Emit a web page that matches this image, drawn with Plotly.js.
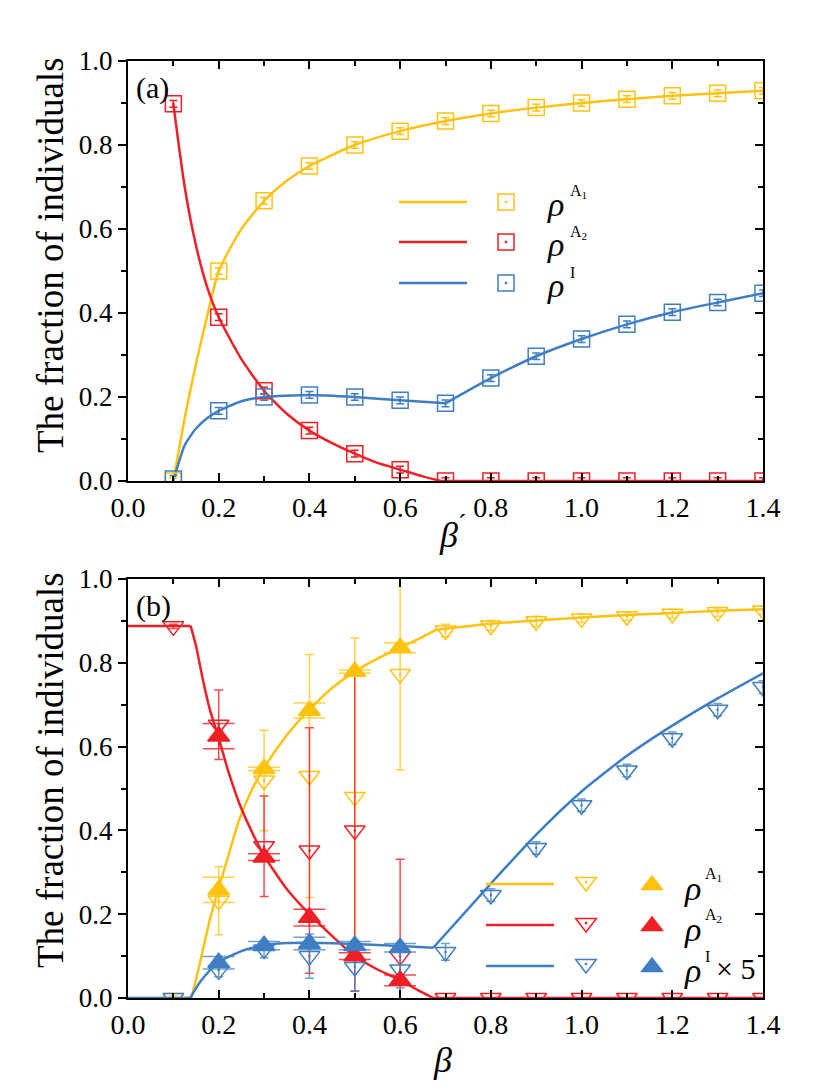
<!DOCTYPE html>
<html><head><meta charset="utf-8">
<script src="https://cdn.plot.ly/plotly-3.0.1.min.js"></script>
<style>html,body{margin:0;padding:0;background:#fff}#chart{width:830px;height:1087px}</style>
</head><body><div id="chart"></div>
<script>
// ---------- Panel (a): x = beta' ----------
const aBeta = [0.1,0.2,0.3,0.4,0.5,0.6,0.7,0.8,0.9,1.0,1.1,1.2,1.3,1.4];
const aRhoA1 = [0.0,0.50,0.667,0.75,0.80,0.833,0.857,0.875,0.889,0.90,0.909,0.917,0.923,0.929];
const aRhoA2 = [0.898,0.39,0.215,0.12,0.065,0.027,0.0,0.0,0.0,0.0,0.0,0.0,0.0,0.0];
const aRhoI  = [0.005,0.167,0.20,0.205,0.20,0.192,0.185,0.245,0.297,0.338,0.373,0.402,0.425,0.447];
const aErr   = [0.008,0.008,0.008,0.008,0.008,0.008,0.008,0.008,0.008,0.008,0.008,0.008,0.008,0.008];
// theory curves (a)
const aCurveA1X = [0.1,0.125,0.15,0.175,0.2,0.25,0.3,0.35,0.4,0.5,0.6,0.7,0.8,0.9,1.0,1.1,1.2,1.3,1.4];
const aCurveA1  = [0.0,0.15,0.28,0.395,0.5,0.6,0.667,0.715,0.75,0.80,0.833,0.857,0.875,0.889,0.90,0.909,0.917,0.923,0.929];
const aCurveA2X = [0.1,0.125,0.15,0.175,0.2,0.25,0.3,0.35,0.4,0.45,0.5,0.55,0.6,0.65,0.69,1.4];
const aCurveA2  = [0.898,0.70,0.56,0.46,0.39,0.29,0.215,0.16,0.12,0.09,0.065,0.043,0.027,0.011,0.0,0.0];
const aCurveIX  = [0.1,0.125,0.15,0.175,0.2,0.25,0.3,0.4,0.5,0.6,0.7,0.8,0.9,1.0,1.1,1.2,1.3,1.4];
const aCurveI   = [0.0,0.085,0.125,0.15,0.167,0.19,0.20,0.205,0.20,0.192,0.185,0.245,0.297,0.338,0.373,0.402,0.425,0.447];

// ---------- Panel (b): x = beta ----------
const bBeta = [0.1,0.2,0.3,0.4,0.5,0.6,0.7,0.8,0.9,1.0,1.1,1.2,1.3,1.4];
const bOpenA1 = [0.0,0.232,0.519,0.53,0.48,0.773,0.877,0.889,0.899,0.906,0.911,0.917,0.921,0.925];
const bOpenA1Err = [0.005,0.081,0.12,0.29,0.379,0.228,0.015,0.012,0.012,0.01,0.01,0.01,0.01,0.01];
const bOpenA2 = [0.887,0.652,0.362,0.352,0.40,0.10,0,0,0,0,0,0,0,0];
const bOpenA2Err = [0.005,0.083,0.12,0.293,0.383,0.231,0,0,0,0,0,0,0,0];
const bOpenI = [0.0,0.066,0.116,0.10,0.074,0.068,0.11,0.246,0.358,0.46,0.543,0.62,0.688,0.742];
const bOpenIErr = [0.0,0.015,0.02,0.053,0.058,0.044,0.02,0.015,0.015,0.015,0.015,0.015,0.015,0.015];
const bBetaFilled = [0.2,0.3,0.4,0.5,0.6];
const bFilledA1 = [0.258,0.547,0.686,0.779,0.836];
const bFilledA1Err = [0.03,0.004,0.018,0.004,0.012];
const bFilledA2 = [0.625,0.336,0.192,0.10,0.042];
const bFilledA2Err = [0.03,0.008,0.02,0.008,0.013];
const bFilledI = [0.084,0.125,0.13,0.125,0.12];
const bFilledIErr = [0.015,0.01,0.015,0.01,0.01];
// theory curves (b)
const bCurveA1X = [0,0.14,0.16,0.18,0.2,0.22,0.245,0.27,0.3,0.35,0.4,0.45,0.5,0.55,0.6,0.65,0.68,0.8,0.9,1.0,1.1,1.2,1.3,1.4];
const bCurveA1  = [0,0,0.09,0.185,0.262,0.335,0.425,0.49,0.549,0.627,0.688,0.74,0.779,0.81,0.836,0.862,0.879,0.893,0.901,0.908,0.914,0.919,0.924,0.928];
const bCurveA2X = [0,0.138,0.15,0.165,0.18,0.2,0.22,0.247,0.276,0.3,0.35,0.4,0.45,0.5,0.55,0.6,0.64,0.673,1.4];
const bCurveA2  = [0.888,0.888,0.84,0.76,0.69,0.62,0.545,0.46,0.39,0.34,0.26,0.2,0.148,0.1,0.068,0.043,0.018,0.0,0.0];
const bCurveIX  = [0,0.137,0.16,0.196,0.25,0.298,0.35,0.4,0.5,0.6,0.673,0.8,0.9,1.0,1.1,1.2,1.3,1.4];
const bCurveI   = [0,0,0.04,0.083,0.112,0.126,0.131,0.132,0.129,0.124,0.12,0.273,0.39,0.493,0.578,0.65,0.715,0.775];
// x positions where the theory curves have corners
const aKinksA2 = [0.69], aKinksI = [0.7];
const bKinksA1 = [0.14, 0.68], bKinksA2 = [0.138, 0.673], bKinksI = [0.137, 0.673];

// ---------- styling ----------
const YEL = '#FFC20E', RED = '#EE1F27', BLU = '#3F7EC3';
const YELe = 'rgba(255,194,14,0.75)', REDe = 'rgba(238,31,39,0.8)', BLUe = 'rgba(63,126,195,0.75)';
const FONT = 'Liberation Serif';

function curve(x, y, kinks, color, xa, ya) {
  const cuts = [0];
  kinks.forEach(k => { const i = x.indexOf(k); if (i > 0) cuts.push(i); });
  cuts.push(x.length - 1);
  const out = [];
  for (let s = 0; s < cuts.length - 1; s++) {
    const xs = x.slice(cuts[s], cuts[s + 1] + 1), ys = y.slice(cuts[s], cuts[s + 1] + 1);
    out.push({x: xs, y: ys, xaxis: xa, yaxis: ya, mode: 'lines', hoverinfo: 'skip',
      line: {color, width: 2.5, shape: xs.length > 2 ? 'spline' : 'linear', smoothing: 0.6}});
  }
  return out;
}
function marks(x, y, err, color, errColor, symbol, size, capw, xa, ya) {
  return {x, y, xaxis: xa, yaxis: ya, mode: 'markers', hoverinfo: 'skip',
          marker: {symbol, size, color, line: {color, width: 1.5}},
          error_y: {type: 'data', array: err, visible: true, color: errColor, thickness: 1.5, width: capw}};
}

const traces = [].concat(
  curve(aCurveA1X, aCurveA1, [], YEL, 'x', 'y'),
  curve(aCurveA2X, aCurveA2, aKinksA2, RED, 'x', 'y'),
  curve(aCurveIX, aCurveI, aKinksI, BLU, 'x', 'y'),
  [marks(aBeta, aRhoA1, aErr, YEL, YEL, 'square-open-dot', 16, 4, 'x', 'y'),
   marks(aBeta, aRhoA2, aErr, RED, RED, 'square-open-dot', 16, 4, 'x', 'y'),
   marks(aBeta, aRhoI, aErr, BLU, BLU, 'square-open-dot', 16, 4, 'x', 'y')],
  curve(bCurveA1X, bCurveA1, bKinksA1, YEL, 'x2', 'y2'),
  curve(bCurveA2X, bCurveA2, bKinksA2, RED, 'x2', 'y2'),
  curve(bCurveIX, bCurveI, bKinksI, BLU, 'x2', 'y2'),
  [marks(bBeta, bOpenA1, bOpenA1Err, YEL, YELe, 'triangle-down-open-dot', 18, 4.5, 'x2', 'y2'),
   marks(bBeta, bOpenA2, bOpenA2Err, RED, REDe, 'triangle-down-open-dot', 18, 4.5, 'x2', 'y2'),
   marks(bBeta, bOpenI, bOpenIErr, BLU, BLUe, 'triangle-down-open-dot', 18, 4.5, 'x2', 'y2'),
   marks(bBetaFilled, bFilledA1, bFilledA1Err, YEL, YELe, 'triangle-up', 19, 16, 'x2', 'y2'),
   marks(bBetaFilled, bFilledA2, bFilledA2Err, RED, REDe, 'triangle-up', 19, 16, 'x2', 'y2'),
   marks(bBetaFilled, bFilledI, bFilledIErr, BLU, BLUe, 'triangle-up', 19, 16, 'x2', 'y2'),
   // empty traces so the right-hand tick axes get drawn
   {x: [], y: [], xaxis: 'x', yaxis: 'y3', mode: 'markers', hoverinfo: 'skip'},
   {x: [], y: [], xaxis: 'x2', yaxis: 'y4', mode: 'markers', hoverinfo: 'skip'}]
);

// ---------- layout ----------
const L = 128, R = 67, T = 61, Bm = 89, FW = 830, FH = 1087;
const W = FW - L - R, H = FH - T - Bm, BOT = FH - Bm;
const px = v => (v - L) / W, py = v => (BOT - v) / H;

function axX(anchor) {
  return {anchor, domain: [0, 1], range: [0, 1.4], tick0: 0, dtick: 0.2, tickformat: '.1f',
    ticks: 'inside', ticklen: 8, tickwidth: 2, tickcolor: '#000',
    showline: true, linewidth: 2, linecolor: '#000', mirror: 'ticks',
    showgrid: false, zeroline: false, tickfont: {family: FONT, size: 28, color: '#000'},
    minor: {dtick: 0.1, tick0: 0, ticks: 'inside', ticklen: 5, tickwidth: 2, tickcolor: '#000', showgrid: false}};
}
function axY(anchor, domain) {
  return {anchor, domain, range: [0, 1], tick0: 0, dtick: 0.2, tickformat: '.1f',
    ticks: 'outside', ticklen: 8, tickwidth: 2, tickcolor: '#000',
    showline: true, linewidth: 2, linecolor: '#000', mirror: true,
    showgrid: false, zeroline: false, tickfont: {family: FONT, size: 27, color: '#000'},
    minor: {dtick: 0.1, tick0: 0, ticks: 'outside', ticklen: 5, tickwidth: 2, tickcolor: '#000', showgrid: false}};
}
function axYRight(overlay, anchor) {
  return {overlaying: overlay, anchor, side: 'right', range: [0, 1], tick0: 0, dtick: 0.2,
    ticks: 'inside', ticklen: 8, tickwidth: 2, tickcolor: '#000', showticklabels: false,
    showline: false, showgrid: false, zeroline: false,
    minor: {dtick: 0.1, tick0: 0, ticks: 'inside', ticklen: 5, tickwidth: 2, tickcolor: '#000', showgrid: false}};
}
const topDom = [py(481), 1], botDom = [0, py(579)];

// legend pieces
const shapes = [], annotations = [];
function lgLine(x0, x1, y, color) {
  shapes.push({type: 'line', xref: 'paper', yref: 'paper', x0: px(x0), x1: px(x1), y0: py(y), y1: py(y),
    line: {color, width: 2.5}});
}
function lgPath(x, y, path, color, fill) {
  shapes.push({type: 'path', xref: 'paper', yref: 'paper', xsizemode: 'pixel', ysizemode: 'pixel',
    xanchor: px(x), yanchor: py(y), path, line: {color, width: 1.5}, fillcolor: fill || 'rgba(0,0,0,0)'});
}
function dot(x, y, color) {
  shapes.push({type: 'circle', xref: 'paper', yref: 'paper', xsizemode: 'pixel', ysizemode: 'pixel',
    xanchor: px(x), yanchor: py(y), x0: -1, x1: 1, y0: -1, y1: 1, line: {color, width: 1}, fillcolor: color});
}
function txt(x, y, text, size, opts) {
  annotations.push(Object.assign({xref: 'paper', yref: 'paper', x: px(x), y: py(y), text, showarrow: false,
    xanchor: 'left', yanchor: 'middle', font: {family: FONT, size, color: '#000'}}, opts || {}));
}
const SQ = 'M-8,-8 L8,-8 L8,8 L-8,8 Z';
const TD = 'M-10.4,4.5 L10.4,4.5 L0,-9 Z';
const TU = 'M-10.4,-4.5 L10.4,-4.5 L0,9 Z';

// legend (a)
const aRows = [[202, YEL, 'A', '1'], [242, RED, 'A', '2'], [283, BLU, 'I', '']];
aRows.forEach(([y, c, sup, sub]) => {
  lgLine(399, 467, y, c);
  lgPath(506, y, SQ, c); dot(506, y, c);
  txt(545, y + 2, '<i>ρ</i>', 34);
  txt(568, y - 10, sub ? sup + '<sub>' + sub + '</sub>' : sup, 16);
});
// legend (b)
const bRows = [[884, YEL, 'A', '1'], [925, RED, 'A', '2'], [966, BLU, 'I', '']];
bRows.forEach(([y, c, sup, sub]) => {
  lgLine(486, 554, y, c);
  lgPath(586, y - 2, TD, c); dot(586, y - 2, c);
  lgPath(652, y + 1, TU, c, c);
  txt(682, y + 4, '<i>ρ</i>', 34);
  txt(703, y - 10, sub ? sup + '<sub>' + sub + '</sub>' : sup, 16);
});
txt(714, 968, '× 5', 30);

// panel labels and axis titles
txt(134, 88, '(a)', 30);
txt(134, 606, '(b)', 30);
annotations.push({xref: 'paper', yref: 'paper', x: px(50), y: py(255), text: 'The fraction of individuals',
  textangle: -90, showarrow: false, xanchor: 'center', yanchor: 'middle', font: {family: FONT, size: 37, color: '#000'}});
annotations.push({xref: 'paper', yref: 'paper', x: px(50), y: py(770), text: 'The fraction of individuals',
  textangle: -90, showarrow: false, xanchor: 'center', yanchor: 'middle', font: {family: FONT, size: 37, color: '#000'}});
annotations.push({xref: 'paper', yref: 'paper', x: px(452), y: py(532), text: '<i>β</i><sup>´</sup>',
  showarrow: false, xanchor: 'center', yanchor: 'middle', font: {family: FONT, size: 36, color: '#000'}});
annotations.push({xref: 'paper', yref: 'paper', x: px(442), y: py(1060), text: '<i>β</i>',
  showarrow: false, xanchor: 'center', yanchor: 'middle', font: {family: FONT, size: 36, color: '#000'}});

const layout = {
  width: FW, height: FH, margin: {l: L, r: R, t: T, b: Bm},
  paper_bgcolor: '#fff', plot_bgcolor: '#fff', showlegend: false,
  font: {family: FONT, color: '#000'},
  xaxis: axX('y'), yaxis: axY('x', topDom),
  xaxis2: axX('y2'), yaxis2: axY('x2', botDom),
  yaxis3: axYRight('y', 'x'), yaxis4: axYRight('y2', 'x2'),
  shapes, annotations
};
Plotly.newPlot('chart', traces, layout, {staticPlot: true});
</script>
</body></html>
